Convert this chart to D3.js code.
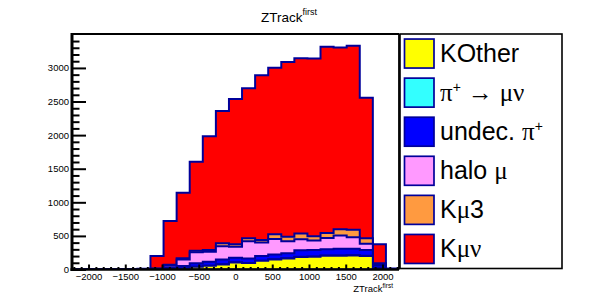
<!DOCTYPE html>
<html><head><meta charset="utf-8">
<script src="https://cdn.jsdelivr.net/npm/d3@7"></script>
<style>
body{margin:0;background:#fff}
svg{display:block}
text{font-family:"Liberation Sans",Arial,Helvetica,sans-serif;fill:#000}
</style>
</head><body>
<svg id="c" width="591" height="306"></svg>
<script>
// ---------- data ----------
const binEdges = [-2225,-2047,-1869,-1691,-1513,-1335,-1157,-979,-801,-623,-445,-267,-89,
                  89,267,445,623,801,979,1157,1335,1513,1691,1869,2047,2225];
const kOther  = [0,0,0,0,0,0,0,5,15,40,55,75,105,95,130,150,165,185,190,205,205,210,200,20,3];
const piMuNu  = [0,0,0,0,0,0,0,0,1,1,2,2,2,2,2,3,3,3,3,3,3,3,3,1,0];
const undecPi = [3,3,4,3,4,5,8,30,36,51,59,73,68,68,68,72,72,97,97,92,102,97,87,39,3];
const haloMu  = [0,0,0,0,0,0,4,30,98,163,149,195,165,255,200,230,180,165,140,170,195,170,95,20,2];
const kMu3    = [0,0,0,0,0,0,3,5,16,25,25,45,35,44,39,70,68,85,65,75,95,110,80,12,1];
const kMuNu   = [2,2,2,2,2,5,186,652,977,1324,1692,1968,2162,2232,2451,2478,2600,2608,2645,2770,2705,2740,2091,283,6];

const xTickValues = [-2000,-1500,-1000,-500,0,500,1000,1500,2000];
const yTickValues = [0,500,1000,1500,2000,2500,3000];
const xDomain = [-2225, 2225];
const yDomain = [0, 3505];

const seriesKeys   = ["kOther","piMuNu","undecPi","haloMu","kMu3","kMuNu"];
const seriesColors = ["#ffff00","#33ffff","#0000ff","#ff99ff","#ff9a40","#ff0000"];
const seriesData   = [kOther, piMuNu, undecPi, haloMu, kMu3, kMuNu];

// ---------- layout ----------
const svg = d3.select("#c");
const fx0 = 72, fx1 = 399, fy0 = 34, fy1 = 269.5;
const x = d3.scaleLinear().domain(xDomain).range([fx0, fx1]);
const y = d3.scaleLinear().domain(yDomain).range([fy1, fy0]);
const outline = "#00009a";

// table for stack
const rows = kOther.map((_, i) => {
  const r = {i};
  seriesKeys.forEach((k, j) => r[k] = seriesData[j][i]);
  return r;
});
const stacked = d3.stack().keys(seriesKeys)(rows);

svg.append("clipPath").attr("id","fr").append("rect")
  .attr("x", fx0).attr("y", fy0).attr("width", fx1 - fx0).attr("height", fy1 - fy0);

const g = svg.append("g").attr("clip-path","url(#fr)");
const line = d3.line();
// draw from top cumulative layer down (THStack style)
for (let s = stacked.length - 1; s >= 0; s--) {
  const layer = stacked[s];
  const pts = [[x(binEdges[0]), y(0)]];
  layer.forEach((d, i) => {
    pts.push([x(binEdges[i]), y(d[1])]);
    pts.push([x(binEdges[i+1]), y(d[1])]);
  });
  pts.push([x(binEdges[binEdges.length-1]), y(0)]);
  g.append("path").attr("d", line(pts) + "Z")
    .attr("fill", seriesColors[s])
    .attr("stroke", outline).attr("stroke-width", 2)
    .attr("stroke-linejoin","miter");
}

// ---------- axes ----------
const xMinor = d3.range(-2200, 2201, 100).filter(v => v % 500 !== 0);
const yMinor = d3.range(100, 3501, 100).filter(v => v % 500 !== 0);

const xa = svg.append("g").attr("transform", `translate(0,${fy1})`)
  .call(d3.axisBottom(x).tickValues(xTickValues).tickSize(-5).tickSizeOuter(0).tickPadding(4)
        .tickFormat(d3.format("d")));
const xm = svg.append("g").attr("transform", `translate(0,${fy1})`)
  .call(d3.axisBottom(x).tickValues(xMinor).tickSize(-2.5).tickSizeOuter(0).tickFormat(""));
const ya = svg.append("g").attr("transform", `translate(${fx0},0)`)
  .call(d3.axisLeft(y).tickValues(yTickValues).tickSize(-14).tickSizeOuter(0).tickPadding(3)
        .tickFormat(d3.format("d")));
const ym = svg.append("g").attr("transform", `translate(${fx0},0)`)
  .call(d3.axisLeft(y).tickValues(yMinor).tickSize(-7.5).tickSizeOuter(0).tickFormat(""));

[xa, xm, ya, ym].forEach(a => {
  a.select(".domain").remove();
  a.selectAll(".tick line").attr("stroke", "#000").attr("stroke-width", 2);
  a.selectAll("text").attr("font-size", 9.5).attr("font-family", '"Liberation Sans",Arial,sans-serif').attr("fill","#000");
});

// frame
svg.append("line").attr("x1", fx0).attr("x2", fx1).attr("y1", fy0).attr("y2", fy0)
  .attr("stroke","#000").attr("stroke-width",2);
svg.append("line").attr("x1", fx1).attr("x2", fx1).attr("y1", fy0).attr("y2", fy1)
  .attr("stroke","#000").attr("stroke-width",1.8);
svg.append("line").attr("x1", fx0).attr("x2", fx0).attr("y1", fy0 - 1).attr("y2", fy1 + 1.5)
  .attr("stroke","#000").attr("stroke-width",3);
svg.append("line").attr("x1", fx0 - 1.5).attr("x2", fx1).attr("y1", fy1).attr("y2", fy1)
  .attr("stroke","#000").attr("stroke-width",2.6);

// title
const t = svg.append("text").attr("x", 261).attr("y", 22).attr("font-size", 13.5);
t.append("tspan").text("ZTrack");
t.append("tspan").attr("font-size", 9).attr("dy", -7).text("first");

// x axis title
const xt = svg.append("text").attr("x", 393).attr("y", 292).attr("text-anchor","end").attr("font-size", 9.5);
xt.append("tspan").text("ZTrack");
xt.append("tspan").attr("font-size", 6.5).attr("dy", -3.8).text("first");

// ---------- legend ----------
const lx0 = 400, lx1 = 562, ly0 = 34, ly1 = 268.5;
svg.append("rect").attr("x", lx0).attr("y", ly0).attr("width", lx1 - lx0).attr("height", ly1 - ly0)
  .attr("fill","#fff").attr("stroke","#000").attr("stroke-width",1.6);
const rowH = (ly1 - ly0) / 6;
const serif = '"Liberation Serif","DejaVu Serif",serif';
const legendLabels = [
  [{t:"KOther"}],
  [{t:"π", f:serif}, {t:"+", s:14, dy:-9}, {t:" → ", dy:9}, {t:"μν", f:serif}],
  [{t:"undec. "}, {t:"π", f:serif}, {t:"+", s:14, dy:-9}],
  [{t:"halo "}, {t:"μ", f:serif}],
  [{t:"K"}, {t:"μ", f:serif}, {t:"3"}],
  [{t:"K"}, {t:"μν", f:serif}]
];
seriesKeys.forEach((k, i) => {
  const cy = ly0 + rowH * (i + 0.5);
  svg.append("rect").attr("x", 404.5).attr("y", cy - 14.5).attr("width", 29.5).attr("height", 29)
    .attr("fill", seriesColors[i]).attr("stroke", outline).attr("stroke-width", 1.7);
  const tx = svg.append("text").attr("x", 440).attr("y", cy + 8.5).attr("font-size", 25);
  legendLabels[i].forEach(p => {
    const sp = tx.append("tspan").text(p.t);
    if (p.f) sp.attr("font-family", p.f);
    if (p.s) sp.attr("font-size", p.s);
    if (p.dy) sp.attr("dy", p.dy);
  });
});
</script>
</body></html>
